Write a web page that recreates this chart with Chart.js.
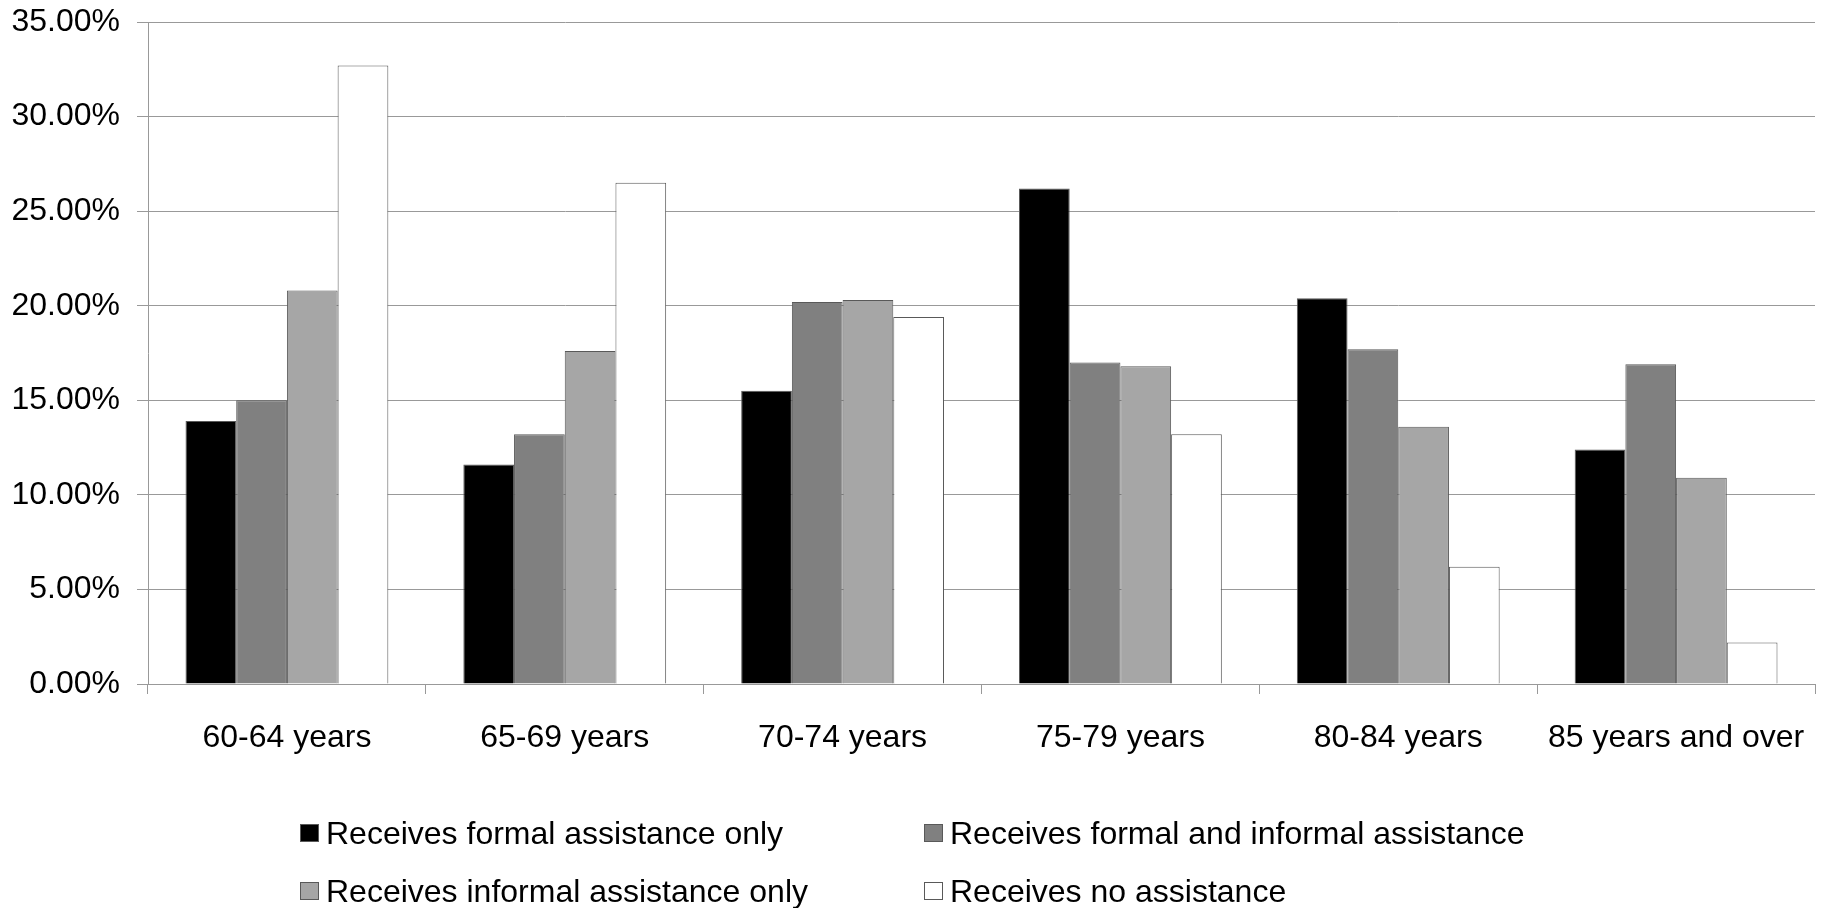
<!DOCTYPE html>
<html>
<head>
<meta charset="utf-8">
<title>Assistance by age group</title>
<script src="https://cdn.jsdelivr.net/npm/chart.js@4"></script>
<style>
  html, body { margin: 0; padding: 0; background: #fff; }
  #wrap { position: relative; width: 1824px; height: 908px; }
  #legend {
    position: absolute; left: 300px; top: 804px;
    display: grid; grid-template-columns: 624px auto;
    font-family: "Liberation Sans", Arial, sans-serif; font-size: 32px; color: #000;
  }
  .item { display: flex; align-items: center; height: 58px; line-height: 58px; white-space: nowrap; }
  .swatch { width: 17px; height: 16px; border: 1px solid #595959; margin-right: 7px; box-sizing: content-box; }
</style>
</head>
<body>
<div id="wrap">
  <canvas id="chart" width="1824" height="908"></canvas>
  <div id="legend"></div>
</div>
<script>
// Age groups on the x axis
const ageGroups = ['60-64 years', '65-69 years', '70-74 years', '75-79 years', '80-84 years', '85 years and over'];

// Share of each age group (percent)
const formalOnly   = [13.9, 11.6, 15.5, 26.2, 20.4, 12.4];
const formalAndInf = [15.0, 13.2, 20.2, 17.0, 17.7, 16.9];
const informalOnly = [20.8, 17.6, 20.3, 16.8, 13.6, 10.9];
const noAssistance = [32.7, 26.5, 19.4, 13.2, 6.2, 2.2];

const seriesNames = [
  'Receives formal assistance only',
  'Receives formal and informal assistance',
  'Receives informal assistance only',
  'Receives no assistance'
];
const seriesColors = ['#000000', '#808080', '#a6a6a6', '#ffffff'];

const FONT = '"Liberation Sans", Arial, sans-serif';
const GRID = '#999999';

const seriesData = [formalOnly, formalAndInf, informalOnly, noAssistance];

const chart = new Chart(document.getElementById('chart'), {
  type: 'bar',
  data: {
    labels: ageGroups,
    datasets: seriesData.map((d, i) => ({
      label: seriesNames[i],
      data: d,
      backgroundColor: seriesColors[i],
      borderColor: '#595959',
      borderWidth: 1,
      categoryPercentage: 0.73,
      barPercentage: 1.0
    }))
  },
  options: {
    responsive: false,
    animation: false,
    layout: { padding: { top: 8, right: 9, left: 0, bottom: 0 } },
    plugins: {
      legend: { display: false },
      tooltip: { enabled: false }
    },
    scales: {
      x: {
        grid: { drawOnChartArea: false, drawTicks: true, tickLength: 10, color: GRID },
        border: { display: true, color: GRID },
        // line height pushes the labels down without widening the side padding
        ticks: { color: '#000', font: { family: FONT, size: 32, lineHeight: '52px' }, padding: 18, maxRotation: 0 },
        afterFit: (scale) => { scale.height = 224; }
      },
      y: {
        min: 0,
        max: 35,
        grid: { color: GRID, tickLength: 11 },
        border: { display: true, color: GRID },
        ticks: {
          stepSize: 5,
          color: '#000',
          padding: 17,
          font: { family: FONT, size: 32, lineHeight: '10px' },
          callback: (v) => v.toFixed(2) + '%'
        },
        afterFit: (scale) => { scale.width = 148; }
      }
    }
  }
});

// legend laid out in two columns like the original
const legendEl = document.getElementById('legend');
seriesNames.forEach((name, i) => {
  const item = document.createElement('div');
  item.className = 'item';
  const sw = document.createElement('span');
  sw.className = 'swatch';
  sw.style.background = seriesColors[i];
  const txt = document.createElement('span');
  txt.textContent = name;
  item.appendChild(sw);
  item.appendChild(txt);
  legendEl.appendChild(item);
});
</script>
</body>
</html>
